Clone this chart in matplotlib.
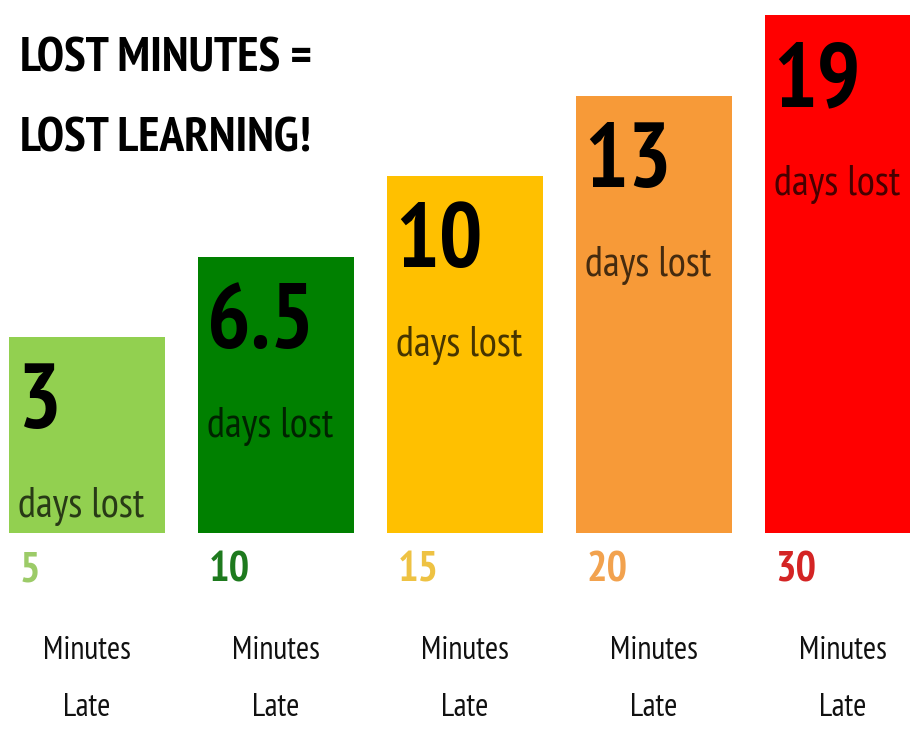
import matplotlib
matplotlib.use("Agg")
import matplotlib.pyplot as plt
from matplotlib import font_manager

# ---- data ----
minutes_late = ["5", "10", "15", "20", "30"]
days_lost = ["3", "6.5", "10", "13", "19"]
bar_levels = [2.43, 3.43, 4.43, 5.43, 6.43]   # visual staircase heights
bar_colors = ["#92D050", "#008000", "#FFC000", "#F79A38", "#FF0000"]
minute_colors = ["#9CCB68", "#1E7A1E", "#EEC243", "#F2A24E", "#D42424"]
title_lines = ["LOST MINUTES =", "LOST LEARNING!"]

names = {f.name for f in font_manager.fontManager.ttflist}
FONT = "Liberation Sans"
for cand in ["PT Sans Narrow", "Fira Sans Condensed", "Roboto Condensed",
             "Archivo Narrow", "Encode Sans Condensed", "Liberation Sans Narrow"]:
    if cand in names:
        FONT = cand
        break

W, H, DPI = 910, 733, 100
fig = plt.figure(figsize=(W / DPI, H / DPI), dpi=DPI)
ax = fig.add_axes([0, 0, 1, 1])
ax.set_xlim(-0.46, 4.354)
ax.set_ylim(-2.484, 6.621)
ax.axis("off")

x = list(range(len(days_lost)))
bw = 0.83
ax.bar(x, bar_levels, width=bw, color=bar_colors, align="center", linewidth=0)

for i in x:
    left = i - bw / 2
    top = bar_levels[i]
    ax.annotate(days_lost[i], xy=(left, top), xytext=(9, -27), textcoords="offset pixels",
                ha="left", va="top", fontsize=66, fontweight="bold", family=FONT, color="black")
    ax.annotate("days lost", xy=(left, top), xytext=(9, -150), textcoords="offset pixels",
                ha="left", va="top", fontsize=30, family=FONT, color="black", alpha=0.72)
    ax.annotate(minutes_late[i], xy=(left, 0), xytext=(11, -18), textcoords="offset pixels",
                ha="left", va="top", fontsize=31, fontweight="bold", family=FONT,
                color=minute_colors[i])
    ax.annotate("Minutes", xy=(i, 0), xytext=(0, -103), textcoords="offset pixels",
                ha="center", va="top", fontsize=23, family=FONT, color="#111111")
    ax.annotate("Late", xy=(i, 0), xytext=(0, -160), textcoords="offset pixels",
                ha="center", va="top", fontsize=23, family=FONT, color="#111111")

fig.text(20 / W, 1 - 38 / H, title_lines[0], ha="left", va="top", fontsize=35.5,
         fontweight="bold", family=FONT, color="black")
fig.text(20 / W, 1 - 118 / H, title_lines[1], ha="left", va="top", fontsize=35.5,
         fontweight="bold", family=FONT, color="black")

fig.savefig("out.png", dpi=DPI, facecolor="white")
